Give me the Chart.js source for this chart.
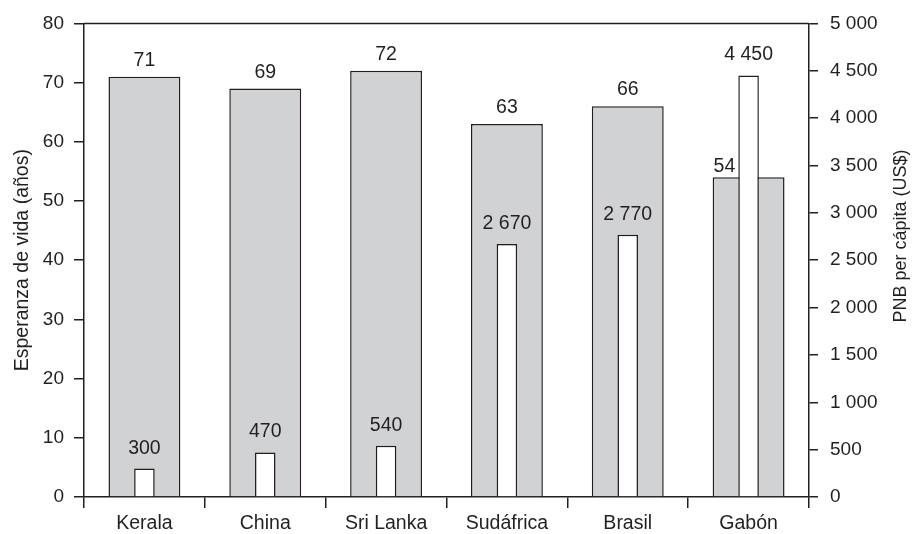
<!DOCTYPE html>
<html>
<head>
<meta charset="utf-8">
<script src="https://cdn.jsdelivr.net/npm/chart.js@4.4.1/dist/chart.umd.min.js"></script>
<style>
  html, body { margin: 0; padding: 0; background: #fff; }
  #wrap { width: 912px; height: 534px; }
</style>
</head>
<body>
<div id="wrap"><canvas id="chart" width="912" height="534"></canvas></div>
<script>
const countries = ["Kerala", "China", "Sri Lanka", "Sudáfrica", "Brasil", "Gabón"];
const lifeExpectancy = [71, 69, 72, 63, 66, 54];
const gnpPerCapita = [300, 470, 540, 2670, 2770, 4450];
const leftTicks = [0, 10, 20, 30, 40, 50, 60, 70, 80];
const rightTicks = [0, 500, 1000, 1500, 2000, 2500, 3000, 3500, 4000, 4500, 5000];

const INK = "#231f20";
const FONT = "'Liberation Sans', Arial, sans-serif";

// 4450 -> "4 450"
function fmt(v) {
    return String(v).replace(/\B(?=(\d{3})+(?!\d))/g, " ");
}

const labelsPlugin = {
    id: "barLabels",
    afterDatasetsDraw(chart) {
        const ctx = chart.ctx;
        const grey = chart.getDatasetMeta(1).data;
        const white = chart.getDatasetMeta(0).data;
        ctx.save();
        ctx.font = "19.5px " + FONT;
        ctx.fillStyle = INK;
        ctx.textBaseline = "alphabetic";
        grey.forEach((bar, i) => {
            const w = white[i];
            if (w.y < bar.y) {
                // white bar pokes through: put the label beside it
                ctx.textAlign = "right";
                ctx.fillText(fmt(lifeExpectancy[i]), w.x - w.width / 2 - 3, bar.y - 5);
            } else {
                ctx.textAlign = "center";
                ctx.fillText(fmt(lifeExpectancy[i]), bar.x, bar.y - 11);
            }
        });
        white.forEach((bar, i) => {
            ctx.textAlign = "center";
            ctx.fillText(fmt(gnpPerCapita[i]), bar.x, bar.y - 15);
        });
        ctx.restore();
    },
    afterDraw(chart) {
        const { ctx, chartArea } = chart;
        ctx.save();
        // top frame line
        ctx.strokeStyle = INK;
        ctx.lineWidth = 1.5;
        ctx.beginPath();
        ctx.moveTo(chartArea.left, chartArea.top);
        ctx.lineTo(chartArea.right, chartArea.top);
        ctx.stroke();
        // right axis title, reading bottom to top
        ctx.translate(901, 236);
        ctx.rotate(-Math.PI / 2);
        ctx.font = "18px " + FONT;
        ctx.fillStyle = INK;
        ctx.textAlign = "center";
        ctx.textBaseline = "middle";
        ctx.fillText("PNB per cápita (US$)", 0, 0);
        ctx.restore();
    }
};

new Chart(document.getElementById("chart"), {
    type: "bar",
    data: {
        labels: countries,
        datasets: [
            {
                label: "PNB per cápita (US$)",
                data: gnpPerCapita,
                yAxisID: "y2",
                backgroundColor: "#ffffff",
                borderColor: INK,
                borderWidth: 1.5,
                grouped: false,
                categoryPercentage: 1,
                barPercentage: 0.17,
                order: 0
            },
            {
                label: "Esperanza de vida (años)",
                data: lifeExpectancy,
                yAxisID: "y",
                backgroundColor: "#d1d2d4",
                borderColor: INK,
                borderWidth: 1.5,
                grouped: false,
                categoryPercentage: 1,
                barPercentage: 0.595,
                order: 1
            }
        ]
    },
    options: {
        responsive: false,
        animation: false,
        layout: { padding: { top: 19, right: 0, left: 0, bottom: 0 } },
        plugins: {
            legend: { display: false },
            tooltip: { enabled: false }
        },
        scales: {
            x: {
                offset: true,
                grid: {
                    offset: true,
                    drawOnChartArea: false,
                    color: INK,
                    lineWidth: 1.5,
                    tickLength: 11
                },
                border: { color: INK, width: 1.5 },
                ticks: { color: INK, font: { family: FONT, size: 19.5 }, padding: 4 },
                afterFit(scale) { scale.height = 37; }
            },
            y: {
                position: "left",
                min: 0,
                max: 80,
                afterBuildTicks(scale) { scale.ticks = leftTicks.map(v => ({ value: v })); },
                grid: { drawOnChartArea: false, color: INK, lineWidth: 1.5, tickLength: 10 },
                border: { color: INK, width: 1.5 },
                ticks: { color: INK, font: { family: FONT, size: 19 }, padding: 10 },
                title: {
                    display: true,
                    text: "Esperanza de vida (años)",
                    color: INK,
                    font: { family: FONT, size: 19.5 },
                    padding: { top: 11, bottom: 0 }
                },
                afterFit(scale) { scale.width = 84; }
            },
            y2: {
                position: "right",
                min: 0,
                max: 5000,
                afterBuildTicks(scale) { scale.ticks = rightTicks.map(v => ({ value: v })); },
                grid: { drawOnChartArea: false, color: INK, lineWidth: 1.5, tickLength: 9 },
                border: { color: INK, width: 1.5 },
                ticks: {
                    color: INK,
                    font: { family: FONT, size: 19 },
                    padding: 12,
                    callback: v => fmt(v)
                },
                afterFit(scale) { scale.width = 103; }
            }
        }
    },
    plugins: [labelsPlugin]
});
</script>
</body>
</html>
